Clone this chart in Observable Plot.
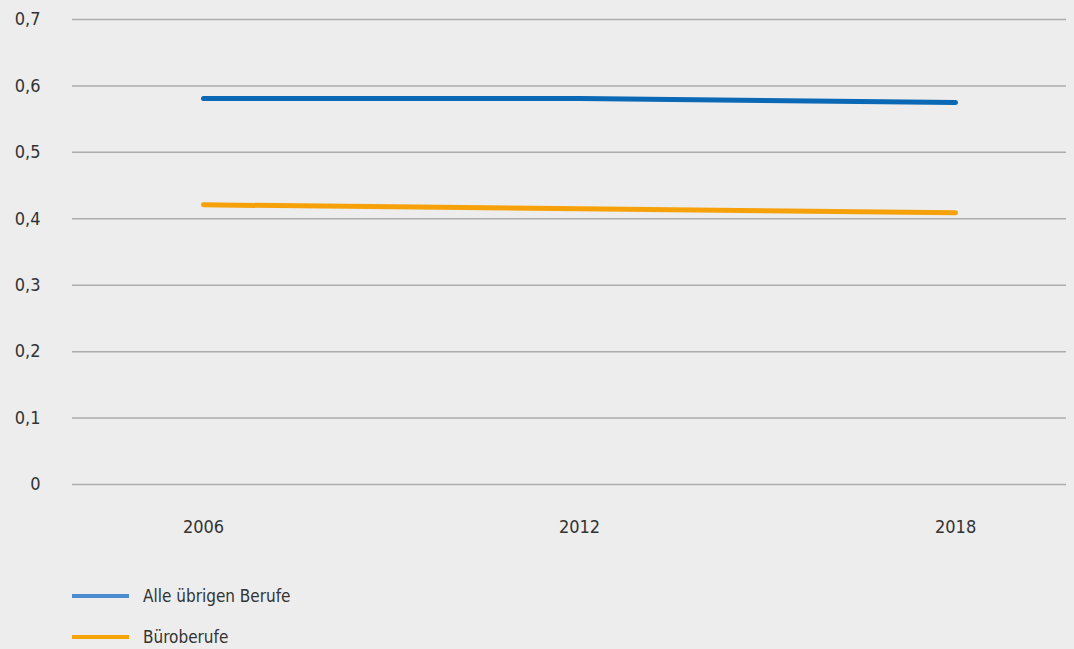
<!DOCTYPE html>
<html>
<head>
<meta charset="utf-8">
<script src="https://cdn.jsdelivr.net/npm/d3@7"></script>
<script src="https://cdn.jsdelivr.net/npm/@observablehq/plot@0.6"></script>
<style>
  html, body { margin: 0; padding: 0; background: #ededed; }
  body { width: 1074px; height: 649px; overflow: hidden; font-family: "Liberation Sans Narrow", "DejaVu Sans Condensed", "Open Sans", sans-serif; color: #333; }
  #chart svg { display: block; }
  .legend { position: relative; }
  .item { position: absolute; left: 72px; display: flex; align-items: center; font-size: 17px; color: #333; }
  .sw { width: 57px; height: 4px; margin-right: 14px; }
</style>
</head>
<body>
<div id="chart"></div>
<div class="legend" id="legend"></div>
<script>
const years = [2006, 2012, 2018];
const seriesNames = ["Alle übrigen Berufe", "Büroberufe"];
const alleUebrigen = [0.581, 0.581, 0.575];
const bueroberufe = [0.421, 0.415, 0.409];
const yTicks = [0, 0.1, 0.2, 0.3, 0.4, 0.5, 0.6, 0.7];
const lineColors = ["#0a68b4", "#f7a10a"];
const legendColors = ["#4a8ccf", "#f5a300"];

const data = [
  ...years.map((y, i) => ({year: y, value: alleUebrigen[i], series: seriesNames[0]})),
  ...years.map((y, i) => ({year: y, value: bueroberufe[i], series: seriesNames[1]}))
];

const fmt = d => d === 0 ? "0" : d.toFixed(1).replace(".", ",");

const chart = Plot.plot({
  width: 1074,
  height: 560,
  marginTop: 19,
  marginBottom: 76,
  marginLeft: 72,
  marginRight: 8,
  style: {background: "#ededed", fontFamily: "'Liberation Sans Narrow', 'DejaVu Sans Condensed', sans-serif", fontSize: "18px", color: "#333"},
  x: {type: "linear", domain: [2003.91, 2019.77]},
  y: {domain: [0, 0.7]},
  color: {domain: seriesNames, range: lineColors},
  marks: [
    Plot.gridY(yTicks, {stroke: "#aeabac", strokeOpacity: 1, strokeWidth: 1.5}),
    Plot.axisY(yTicks, {tickSize: 0, tickPadding: 32, tickFormat: fmt, label: null, fontSize: 18}),
    Plot.axisX(years, {tickSize: 0, tickPadding: 36, tickFormat: d => String(d), label: null, fontSize: 18}),
    Plot.line(data, {x: "year", y: "value", z: "series", stroke: "series", strokeWidth: 5, strokeLinecap: "round"})
  ]
});
document.getElementById("chart").appendChild(chart);

const legend = document.getElementById("legend");
seriesNames.forEach((name, i) => {
  const item = document.createElement("div");
  item.className = "item";
  item.style.top = (36 - 12 + i * 41) + "px";
  item.style.height = "24px";
  const sw = document.createElement("span");
  sw.className = "sw";
  sw.style.background = legendColors[i];
  const label = document.createElement("span");
  label.textContent = name;
  item.appendChild(sw);
  item.appendChild(label);
  legend.appendChild(item);
});
</script>
</body>
</html>
